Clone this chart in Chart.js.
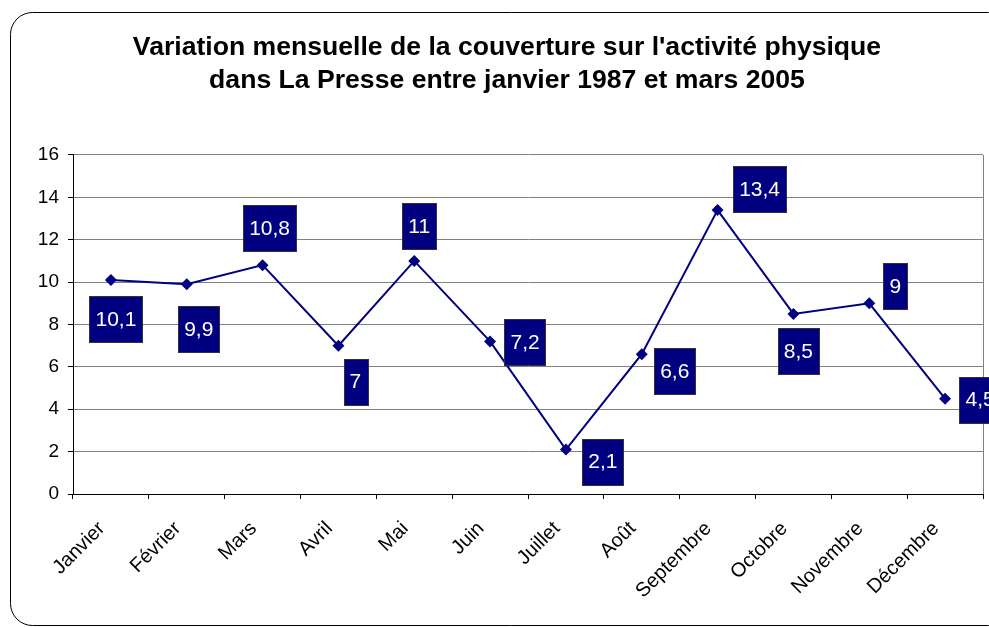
<!DOCTYPE html>
<html>
<head>
<meta charset="utf-8">
<script src="https://cdn.jsdelivr.net/npm/chart.js@4/dist/chart.umd.min.js"></script>
<style>
  body { margin: 0; background: #fff; }
  canvas { display: block; }
</style>
</head>
<body>
<canvas id="chart" width="989" height="627"></canvas>
<script>
// -------------------- Données --------------------
const months = ["Janvier", "Février", "Mars", "Avril", "Mai", "Juin", "Juillet", "Août", "Septembre", "Octobre", "Novembre", "Décembre"];
const coverage = [10.1, 9.9, 10.8, 7, 11, 7.2, 2.1, 6.6, 13.4, 8.5, 9, 4.5];
const yTicks = [0, 2, 4, 6, 8, 10, 12, 14, 16];
const titleLines = ["Variation mensuelle de la couverture sur l'activité physique", "dans La Presse entre janvier 1987 et mars 2005"];

// décalage des étiquettes (px) par rapport au point, comme placées dans Excel
const labelDx = [5, 12, 7, 17, 5, 35, 37, 33, 42, 5, 26, 35];
const labelDy = [39, 45, -37, 36, -35, 1, 12, 17, -21, 37, -17, 1];

const NAVY = "#000080";
const FONT = "Arial, 'Liberation Sans', sans-serif";

// -------------------- Cadre arrondi + bord zone de tracé --------------------
const framePlugin = {
  id: "frame",
  beforeDraw(chart) {
    const c = chart.ctx;
    c.save();
    c.fillStyle = "#fff";
    c.fillRect(0, 0, chart.width, chart.height);
    c.strokeStyle = "#000";
    c.lineWidth = 1;
    c.beginPath();
    c.roundRect(10.5, 12.5, 1000, 613, 22);
    c.stroke();
    c.restore();
  },
  beforeDatasetsDraw(chart) {
    const a = chart.chartArea;
    const c = chart.ctx;
    c.save();
    c.strokeStyle = "#808080";
    c.lineWidth = 1;
    c.beginPath();
    c.moveTo(Math.round(a.right) + 0.5, a.top);
    c.lineTo(Math.round(a.right) + 0.5, a.bottom);
    c.stroke();
    c.restore();
  }
};

// -------------------- Étiquettes de valeurs --------------------
const boxLabels = {
  id: "boxLabels",
  afterDatasetsDraw(chart) {
    const c = chart.ctx;
    const meta = chart.getDatasetMeta(0);
    c.save();
    c.font = "21px " + FONT;
    c.textAlign = "center";
    c.textBaseline = "middle";
    meta.data.forEach((pt, i) => {
      const txt = String(coverage[i]).replace(".", ",");
      const w = c.measureText(txt).width + 12;
      const h = 46;
      const cx = pt.x + labelDx[i];
      const cy = pt.y + labelDy[i];
      const x0 = Math.round(cx - w / 2) + 0.5;
      const y0 = Math.round(cy - h / 2) + 0.5;
      c.fillStyle = NAVY;
      c.fillRect(x0, y0, Math.round(w), h);
      c.strokeStyle = "#333";
      c.lineWidth = 1;
      c.strokeRect(x0, y0, Math.round(w), h);
      c.fillStyle = "#fff";
      c.fillText(txt, cx, cy + 1);
    });
    c.restore();
  }
};

new Chart(document.getElementById("chart"), {
  type: "line",
  data: {
    labels: months,
    datasets: [{
      data: coverage,
      borderColor: NAVY,
      backgroundColor: NAVY,
      borderWidth: 2,
      pointStyle: "rectRot",
      pointRadius: 6,
      pointBorderWidth: 0,
      tension: 0
    }]
  },
  options: {
    responsive: false,
    animation: false,
    // padding gauche pour centrer le titre comme dans l'original
    layout: { padding: { left: 30, right: 5, top: 0, bottom: 0 } },
    plugins: {
      legend: { display: false },
      tooltip: { enabled: false },
      title: {
        display: true,
        text: titleLines,
        color: "#000",
        font: { family: FONT, size: 26.6, weight: "bold", lineHeight: 1.24 },
        padding: { top: 31.5, bottom: 57.5 }
      }
    },
    scales: {
      x: {
        offset: true,
        grid: { offset: true, drawOnChartArea: false, drawTicks: true, tickLength: 5, tickColor: "#000" },
        border: { color: "#000", width: 1 },
        ticks: {
          color: "#000",
          font: { family: FONT, size: 20 },
          minRotation: 45,
          maxRotation: 45,
          padding: 18,
          labelOffset: -9,
          autoSkip: false
        },
        afterFit(scale) { scale.height = 133; }
      },
      y: {
        min: yTicks[0],
        max: yTicks[yTicks.length - 1],
        afterBuildTicks(scale) { scale.ticks = yTicks.map(v => ({ value: v })); },
        grid: { color: "#808080", lineWidth: 1, tickLength: 5, tickColor: "#000" },
        border: { color: "#000", width: 1 },
        ticks: { color: "#000", font: { family: FONT, size: 19 }, padding: 9 },
        afterFit(scale) { scale.width = 43; }
      }
    }
  },
  plugins: [framePlugin, boxLabels]
});
</script>
</body>
</html>
